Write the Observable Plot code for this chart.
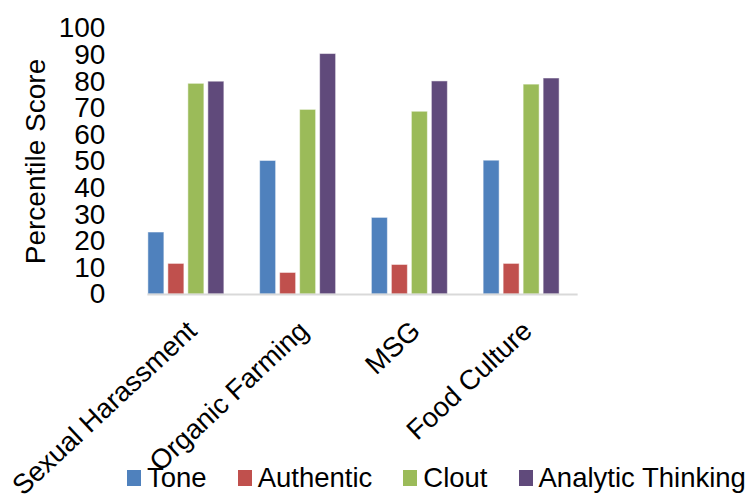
<!DOCTYPE html>
<html>
<head>
<meta charset="utf-8">
<script src="https://cdn.jsdelivr.net/npm/d3@7"></script>
<script src="https://cdn.jsdelivr.net/npm/@observablehq/plot@0.6"></script>
<style>
  body { margin: 0; background: #fff; font-family: "Liberation Sans", Arial, sans-serif; }
  #legend { display: flex; align-items: center; height: 32px; padding-left: 127px; font-size: 27.5px; color: #000; white-space: nowrap; width: 780px; position: relative; }
  #legend .item { display: flex; align-items: center; margin-right: 31px; flex-shrink: 0; }
  #legend .sw { width: 14px; height: 16px; margin-right: 6px; display: inline-block; flex-shrink: 0; }
</style>
</head>
<body>
<div id="chart"></div>
<div id="legend"></div>
<script>
const categories = ["Sexual Harassment", "Organic Farming", "MSG", "Food Culture"];
const series = ["Tone", "Authentic", "Clout", "Analytic Thinking"];
const tone = [23.3, 50.2, 28.8, 50.3];
const authentic = [11.5, 8.1, 11.1, 11.5];
const clout = [79.2, 69.4, 68.7, 78.9];
const analytic = [80.0, 90.4, 80.1, 81.2];
const yTicks = [0, 10, 20, 30, 40, 50, 60, 70, 80, 90, 100];
const colors = ["#4F81BD", "#C0504D", "#9BBB59", "#604A7B"];

const valuesBySeries = [tone, authentic, clout, analytic];
const data = [];
categories.forEach((c, i) => {
  series.forEach((s, j) => {
    data.push({category: c, series: s, value: valuesBySeries[j][i]});
  });
});

const chart = Plot.plot({
  width: 748,
  height: 462,
  marginLeft: 130,
  marginRight: 171,
  marginTop: 28,
  marginBottom: 168,
  style: {fontFamily: '"Liberation Sans", Arial, sans-serif', color: "#000", background: "#fff", overflow: "visible"},
  fx: {domain: categories, paddingInner: 0.32, paddingOuter: 0.16, round: false, label: null},
  x: {domain: series, paddingInner: 0.2, paddingOuter: 0, round: false, axis: null},
  y: {domain: [0, 100], label: null},
  color: {domain: series, range: colors},
  marks: [
    Plot.barY(data, {fx: "category", x: "series", y: "value", fill: "series", stroke: "white", strokeOpacity: 0.5, strokeWidth: 1}),
    Plot.frame({anchor: "bottom", facet: "super", insetRight: -17, stroke: "#d9d9d9", strokeWidth: 2}),
    Plot.axisY({ticks: yTicks, tickSize: 0, tickPadding: 0, dx: -43, fontSize: 28, label: "Percentile Score", labelAnchor: "center", labelArrow: "none", labelOffset: 123}),
    Plot.axisFx({anchor: "bottom", tickSize: 0, tickPadding: 0, fontSize: 27.5, rotate: -43, textAnchor: "end", lineAnchor: "middle", dx: 6, dy: 32, label: null})
  ]
});
document.getElementById("chart").appendChild(chart);

const legend = document.getElementById("legend");
series.forEach((s, j) => {
  const item = document.createElement("div");
  item.className = "item";
  const sw = document.createElement("span");
  sw.className = "sw";
  sw.style.background = colors[j];
  const t = document.createElement("span");
  t.textContent = s;
  item.appendChild(sw);
  item.appendChild(t);
  legend.appendChild(item);
});
</script>
</body>
</html>
